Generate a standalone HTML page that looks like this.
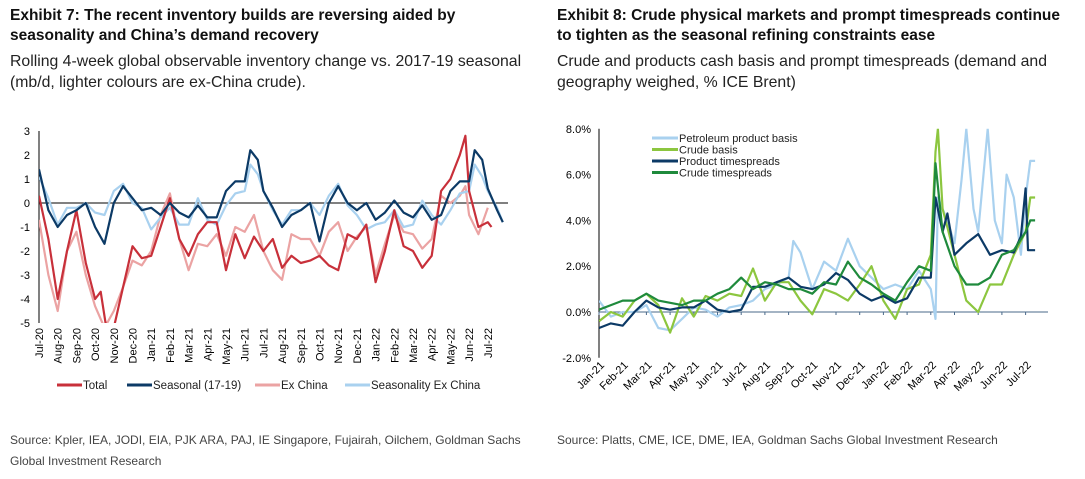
<!DOCTYPE html>
<html><head><meta charset="utf-8">
<style>
body{margin:0;width:1085px;height:479px;background:#fff;font-family:"Liberation Sans",Arial,sans-serif;overflow:hidden;position:relative}
.t{position:absolute;font-weight:bold;font-size:15.5px;line-height:20px;color:#111}
.s{position:absolute;font-size:15.8px;line-height:21px;color:#222}
.src{position:absolute;font-size:12px;line-height:21px;color:#444}
svg{position:absolute;left:0;top:0}
</style></head><body>
<div class="t" style="left:10px;top:6px;width:530px">Exhibit 7: The recent inventory builds are reversing aided by seasonality and China’s demand recovery</div>
<div class="s" style="left:10px;top:51px;width:528px">Rolling 4-week global observable inventory change vs. 2017-19 seasonal (mb/d, lighter colours are ex-China crude).</div>
<div class="t" style="left:557px;top:6px;width:515px">Exhibit 8: Crude physical markets and prompt timespreads continue to tighten as the seasonal refining constraints ease</div>
<div class="s" style="left:557px;top:51px;width:525px">Crude and products cash basis and prompt timespreads (demand and geography weighed, % ICE Brent)</div>
<div class="src" style="left:10px;top:430px;width:530px">Source: Kpler, IEA, JODI, EIA, PJK ARA, PAJ, IE Singapore, Fujairah, Oilchem, Goldman Sachs Global Investment Research</div>
<div class="src" style="left:557px;top:430px;width:525px">Source: Platts, CME, ICE, DME, IEA, Goldman Sachs Global Investment Research</div>
<svg id="chart" width="1085" height="479"></svg>
<script>
// ---- Left chart data (x = months since Jul-20) ----
const leftMonths=["Jul-20","Aug-20","Sep-20","Oct-20","Nov-20","Dec-20","Jan-21","Feb-21","Mar-21","Apr-21","May-21","Jun-21","Jul-21","Aug-21","Sep-21","Oct-21","Nov-21","Dec-21","Jan-22","Feb-22","Mar-22","Apr-22","May-22","Jun-22","Jul-22"];
const leftYTicks=[3,2,1,0,-1,-2,-3,-4,-5];
const totalX=[0,0.5,1,1.5,2,2.5,3,3.3,3.6,4,4.5,5,5.5,6,6.5,7,7.5,8,8.5,9,9.5,10,10.5,11,11.5,12,12.5,13,13.5,14,14.5,15,15.5,16,16.5,17,17.5,18,18.5,19,19.5,20,20.5,21,21.5,22,22.5,22.8,23,23.5,24,24.2];
const totalY=[0.3,-1.5,-4,-2,-0.3,-2.5,-4,-3.7,-5.2,-5.2,-3.5,-1.8,-2.3,-2.2,-1,0.2,-1.5,-2.2,-1.3,-0.8,-0.8,-2.8,-1.3,-2.3,-1.4,-2,-1.5,-2.7,-2.2,-2.5,-2.4,-2.2,-2.6,-2.8,-1.3,-1.5,-0.9,-3.3,-2,-0.3,-1.8,-2,-2.7,-2.2,0.5,1,2,2.8,0.5,-1,-0.8,-1];
const exChinaX=[0,0.5,1,1.5,2,2.5,3,3.5,4,4.5,5,5.5,6,6.5,7,7.5,8,8.5,9,9.5,10,10.5,11,11.5,12,12.5,13,13.5,14,14.5,15,15.5,16,16.5,17,17.5,18,18.5,19,19.5,20,20.5,21,21.5,22,22.5,22.8,23,23.5,24];
const exChinaY=[-0.7,-3,-4.5,-2,-1.2,-3,-4.3,-5.2,-4.5,-3.5,-2.4,-2.6,-2,-0.5,0.4,-1.5,-2.8,-1.7,-1.8,-1.3,-2.2,-1,-1.2,-0.5,-2,-2.8,-3.2,-1.3,-1.5,-1.5,-2.2,-1.2,-0.8,-2,-1.4,-1,-3,-1.7,-0.5,-1.2,-1.3,-1.9,-1.5,0.3,0,0.3,0.7,-0.5,-1.3,-0.2];
const seasX=[0,0.5,1,1.5,2,2.5,3,3.5,4,4.5,5,5.5,6,6.5,7,7.5,8,8.5,9,9.5,10,10.5,11,11.3,11.7,12,12.5,13,13.5,14,14.5,15,15.5,16,16.5,17,17.5,18,18.5,19,19.5,20,20.5,21,21.5,22,22.5,23,23.3,23.7,24,24.5,24.8];
const seasY=[1.4,-0.3,-1,-0.5,-0.3,0,-1,-1.7,0,0.7,0.2,-0.3,-0.2,-0.5,0,-0.4,-0.6,-0.1,-0.6,-0.6,0.5,0.9,0.9,2.2,1.8,0.5,-0.2,-1,-0.5,-0.3,0,-1.6,0,0.7,0,-0.3,0,-0.7,-0.4,0.1,-0.4,-0.6,-0.1,-0.7,-0.5,0.5,0.9,0.9,2.2,1.8,0.6,-0.3,-0.8];
const seasExY=[1.1,0.2,-0.9,-0.2,-0.2,0,-0.4,-0.5,0.5,0.8,0,-0.2,-1.1,-0.6,-0.2,-0.9,-0.9,0.2,-0.7,-0.9,-0.1,0.4,0.5,1.6,1.2,0.5,-0.3,-0.9,-0.3,-0.3,0,-0.5,0.3,0.8,-0.1,-0.5,-1.1,-0.9,-0.8,-0.3,-1,-0.9,0.1,-0.5,-0.9,-0.3,0.4,0.5,1.6,1.1,0.5,-0.2,-0.8];
// ---- Right chart data (x = months since Jan-21) ----
const rightMonths=["Jan-21","Feb-21","Mar-21","Apr-21","May-21","Jun-21","Jul-21","Aug-21","Sep-21","Oct-21","Nov-21","Dec-21","Jan-22","Feb-22","Mar-22","Apr-22","May-22","Jun-22","Jul-22"];
const rightYTicks=[8,6,4,2,0,-2];
const ppbX=[0,0.5,1,1.5,2,2.5,3,3.5,4,4.5,5,5.5,6,6.5,7,7.5,8,8.2,8.5,9,9.5,10,10.5,11,11.5,12,12.5,13,13.5,14,14.2,14.3,14.7,15,15.3,15.5,15.8,16,16.4,16.7,17,17.2,17.5,17.8,18,18.2,18.4];
const ppbY=[0.5,-0.2,0,0,0.3,-0.7,-0.8,-0.3,0.2,0.1,-0.2,0.2,0.3,0.5,1,1.2,1.5,3.1,2.6,1,2.2,1.8,3.2,2,1.5,1,1.2,1,1.8,1,-0.3,5,4,3,5.8,8,4.5,3.5,8,4,3,6,5,2.5,5,6.6,6.6];
const cbX=[0,0.5,1,1.5,2,2.5,3,3.5,4,4.5,5,5.5,6,6.5,7,7.5,8,8.5,9,9.5,10,10.5,11,11.5,12,12.5,13,13.5,14,14.2,14.3,14.5,15,15.5,16,16.5,17,17.5,18,18.2,18.4];
const cbY=[-0.4,0,-0.2,0.5,0.8,0.3,-0.9,0.6,-0.2,0.7,0.5,0.8,0.7,1.9,0.5,1.3,1.3,0.5,-0.1,1,0.8,0.5,1.2,2,0.5,-0.3,1,1.2,2.5,7,8,4.5,2.5,0.5,0,1.2,1.2,2.5,3.5,5,5];
const ptX=[0,0.5,1,1.5,2,2.5,3,3.5,4,4.5,5,5.5,6,6.5,7,7.5,8,8.5,9,9.5,10,10.5,11,11.5,12,12.5,13,13.5,14,14.2,14.5,14.7,15,15.5,16,16.5,17,17.5,17.8,18,18.1,18.4];
const ptY=[-0.7,-0.5,-0.6,0,0.5,0.2,0.1,0.2,0.2,0.5,0.1,0,0.1,1.1,1.1,1.3,1.5,1.1,1,1.2,1.7,1.4,0.8,0.5,0.7,0.4,0.6,1.5,1.5,5,3.5,4.3,2.5,3,3.4,2.5,2.7,2.6,3.3,5.4,2.7,2.7];
const ctX=[0,0.5,1,1.5,2,2.5,3,3.5,4,4.5,5,5.5,6,6.5,7,7.5,8,8.5,9,9.5,10,10.5,11,11.5,12,12.5,13,13.5,14,14.2,14.5,15,15.5,16,16.5,17,17.5,18,18.2,18.4];
const ctY=[0.1,0.3,0.5,0.5,0.8,0.5,0.4,0.3,0.5,0.5,0.8,1,1.5,1,1.3,1.2,1,1,0.8,1.3,1.2,2.2,1.5,1.2,0.8,0.5,1.3,2,1.8,6.5,3.5,2,1.2,1.2,1.5,2.5,2.7,3.5,4,4];

const svg=document.getElementById('chart');const NS='http://www.w3.org/2000/svg';
function mk(tag,attrs,parent){const e=document.createElementNS(NS,tag);for(const k in attrs)e.setAttribute(k,attrs[k]);(parent||svg).appendChild(e);return e;}
// Left axes
const lx=m=>39+m*18.7, ly=v=>203-v*24;
const lg=mk('g',{});


let e=mk('line',{x1:39,y1:ly(3),x2:39,y2:ly(-5),stroke:'#000','stroke-width':1},lg);

e=mk('line',{x1:39,y1:ly(0),x2:508,y2:ly(0),stroke:'#000','stroke-width':1},lg);

leftYTicks.forEach(v=>{const t=mk('text',{x:30,y:ly(v)+4,'text-anchor':'end','font-size':11,fill:'#000'},lg);t.textContent=v;
});
leftMonths.forEach((m,i)=>{const t=mk('text',{x:0,y:0,'text-anchor':'end','font-size':11,fill:'#000',transform:`translate(${lx(i)+4},${ly(-5)+5}) rotate(-90)`},lg);t.textContent=m;
});
function line(xs,ys,fx,fy,col,name,g,w){const d=xs.map((x,i)=>(i?'L':'M')+fx(x).toFixed(1)+','+fy(ys[i]).toFixed(1)).join('');const p=mk('path',{d:d,fill:'none',stroke:col,'stroke-width':w||2.2,'stroke-linejoin':'round'},g);
return p;}
const lclip=mk('clipPath',{id:'lc'});mk('rect',{x:39,y:ly(3)-5,width:480,height:ly(-5)-ly(3)+5},lclip);
const lp=mk('g',{'clip-path':'url(#lc)'},lg);
line(exChinaX,exChinaY,lx,ly,'#eba3a3','series-ex-china',lp);
line(seasX,seasExY,lx,ly,'#a9d1ef','series-seasonality-ex-china',lp);
line(totalX,totalY,lx,ly,'#c8303a','series-total',lp);
line(seasX,seasY,lx,ly,'#0c3a66','series-seasonal',lp);
[[57,'#c8303a','Total'],[127,'#0c3a66','Seasonal (17-19)'],[255,'#eba3a3','Ex China'],[345,'#a9d1ef','Seasonality Ex China']].forEach(([x,c,n])=>{
const g=mk('g',{},lg);
mk('line',{x1:x,y1:385,x2:x+25,y2:385,stroke:c,'stroke-width':3},g);const t=mk('text',{x:x+26,y:389,'font-size':11.5,fill:'#222'},g);t.textContent=n;});
// Right axes
const rx=m=>599+m*23.7, ry=v=>312-v*22.9;
const rg=mk('g',{});


e=mk('line',{x1:599,y1:ry(8),x2:599,y2:ry(-2),stroke:'#000','stroke-width':1},rg);

e=mk('line',{x1:599,y1:ry(0),x2:1048,y2:ry(0),stroke:'#4a6a8a','stroke-width':1},rg);

rightYTicks.forEach(v=>{const t=mk('text',{x:591,y:ry(v)+4,'text-anchor':'end','font-size':11,fill:'#000'},rg);t.textContent=v.toFixed(1)+'%';
});
rightMonths.forEach((m,i)=>{mk('line',{x1:rx(i),y1:ry(0),x2:rx(i),y2:ry(0)+3,stroke:'#4a6a8a'},rg);
const t=mk('text',{x:0,y:0,'text-anchor':'end','font-size':11,fill:'#000',transform:`translate(${rx(i)+6},${ry(-2)+8}) rotate(-45)`},rg);t.textContent=m;
});
const rclip=mk('clipPath',{id:'rc'});mk('rect',{x:599,y:ry(8),width:450,height:ry(-2)-ry(8)},rclip);
const rp=mk('g',{'clip-path':'url(#rc)'},rg);
line(ppbX,ppbY,rx,ry,'#a9d1ef','series-petroleum-product-basis',rp);
line(cbX,cbY,rx,ry,'#8cc63f','series-crude-basis',rp);
line(ptX,ptY,rx,ry,'#0c3a66','series-product-timespreads',rp);
line(ctX,ctY,rx,ry,'#1f8a3c','series-crude-timespreads',rp);
[['#a9d1ef','Petroleum product basis'],['#8cc63f','Crude basis'],['#0c3a66','Product timespreads'],['#1f8a3c','Crude timespreads']].forEach(([c,n],i)=>{
const y=138+i*11.5;const g=mk('g',{},rg);
mk('line',{x1:652,y1:y,x2:678,y2:y,stroke:c,'stroke-width':3},g);const t=mk('text',{x:679,y:y+4,'font-size':11,fill:'#222'},g);t.textContent=n;});
</script>
</body></html>
